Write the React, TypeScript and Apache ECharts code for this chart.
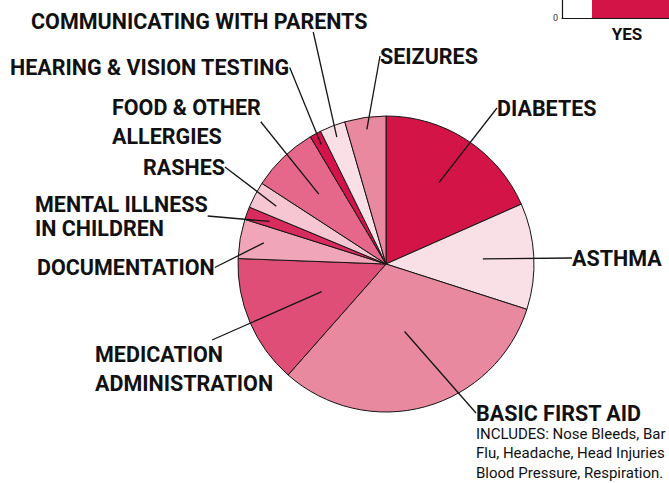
import React, { useEffect, useRef } from "react";
import * as echarts from "echarts";

// ---- data ----
const categories = [
  "DIABETES",
  "ASTHMA",
  "BASIC FIRST AID",
  "MEDICATION\nADMINISTRATION",
  "DOCUMENTATION",
  "MENTAL ILLNESS\nIN CHILDREN",
  "RASHES",
  "FOOD & OTHER\nALLERGIES",
  "HEARING & VISION TESTING",
  "COMMUNICATING WITH PARENTS",
  "SEIZURES",
];
const shares = [18.4, 11.6, 31.6, 14.1, 4.3, 1.4, 2.9, 7.3, 1.25, 2.8, 4.5];
const includesLines = [
  "INCLUDES: Nose Bleeds, Bar",
  "Flu, Headache, Head Injuries",
  "Blood Pressure, Respiration.",
];
const barCategories = ["YES"];
const barValues = [70];
const barTicks = [0, 100];

// ---- styles / layout ----
const sliceColors = [
  "#D21446", "#F9DFE6", "#E8899F", "#DE4E77", "#F0A6B8", "#D82B5E",
  "#F6C7D2", "#E5688A", "#D4134A", "#FBDFE6", "#E8899F",
];
// label text anchor: [left x of text, vertical centre y]
const labelPos: [number, number][] = [
  [497, 108], [572, 258], [476, 413], [95, 369], [37, 267.5], [35, 216],
  [143, 167], [112, 121.75], [10, 67.5], [31, 21], [380, 56],
];
// label box padding [top, right, bottom, left] – steers where the leader attaches
const labelPad: number[][] = [
  [0, 0, 0, 0], [0, 0, 0, 0], [0, 0, 0, 0], [0, 206, 0, 150], [0, 0, 0, 0],
  [0, 0, 0, 0], [0, 0, 0, 0], [0, 0, 0, 0], [0, 0, 0, 0], [0, 228, 0, 0],
  [0, 0, 0, 0],
];
const labelLineHeights = [22, 22, 22, 29, 22, 24, 22, 28.5, 22, 22, 22];
// which invisible guide ring each label's leader starts from
const labelTier = [1, 1, 0, 0, 2, 2, 2, 1, 3, 3, 3];
const tierRadius = [70, 97, 124, 136];

const CX = 386;
const CY = 264;
const R = 148;
const FONT = "Roboto, 'Liberation Sans', Arial, sans-serif";

export default function App() {
  const ref = useRef<HTMLDivElement>(null);
  useEffect(() => {
    if (!ref.current) return;
    const chart = echarts.init(ref.current, undefined, { renderer: "svg" });

    const mainData = categories.map((name, i) => ({
      name,
      value: shares[i],
      itemStyle: { color: sliceColors[i] },
    }));

    const guideSeries = tierRadius.map((rad, t) => ({
      type: "pie",
      silent: true,
      z: 3,
      center: [CX, CY],
      radius: [0, rad],
      startAngle: 90,
      clockwise: true,
      avoidLabelOverlap: false,
      emphasis: { disabled: true },
      itemStyle: { color: "rgba(0,0,0,0)", borderWidth: 0 },
      labelLine: {
        show: true,
        length: 5,
        length2: 0,
        smooth: false,
        lineStyle: { color: "#151515", width: 1.3 },
      },
      label: {
        position: "outside",
        formatter: "{b}",
        color: "#111",
        fontFamily: FONT,
        fontWeight: "bold",
        fontSize: 21.5,
      },
      labelLayout: (p: any) => {
        const pos = labelPos[p.dataIndex];
        const pad = labelPad[p.dataIndex];
        return {
          x: pos[0] - pad[3],
          y: pos[1],
          align: "left",
          verticalAlign: "middle",
        };
      },
      data: categories.map((name, i) => {
        const on = labelTier[i] === t;
        return {
          name,
          value: shares[i],
          label: {
            show: on,
            lineHeight: labelLineHeights[i],
            padding: labelPad[i],
          },
          labelLine: { show: on },
        };
      }),
    }));

    chart.setOption({
      animation: false,
      backgroundColor: "#ffffff",
      grid: {
        left: 562,
        right: -41,
        top: -300,
        bottom: 465,
        containLabel: false,
        outerBoundsMode: "none",
      },
      xAxis: {
        type: "category",
        data: barCategories,
        boundaryGap: true,
        axisLine: { show: true, lineStyle: { color: "#151515", width: 1.2 } },
        axisTick: { show: false },
        axisLabel: {
          color: "#111",
          fontFamily: FONT,
          fontWeight: "bold",
          fontSize: 17,
          margin: 7,
          padding: [0, 18, 0, 0],
        },
      },
      yAxis: {
        type: "value",
        min: barTicks[0],
        max: barTicks[barTicks.length - 1],
        interval: barTicks[1] - barTicks[0],
        axisLine: { show: true, lineStyle: { color: "#151515", width: 1.2 } },
        axisTick: { show: false },
        splitLine: { show: false },
        axisLabel: {
          color: "#333",
          fontFamily: FONT,
          fontSize: 9,
          margin: 4,
          showMaxLabel: false,
        },
      },
      graphic: [
        {
          type: "text",
          left: 476,
          top: 424,
          silent: true,
          style: {
            text: includesLines.join("\n"),
            fill: "#111",
            fontFamily: FONT,
            fontSize: 15,
            lineHeight: 19.5,
          },
        },
      ],
      series: [
        {
          type: "bar",
          data: barValues,
          barWidth: 88,
          itemStyle: { color: "#D21446" },
          silent: true,
        },
        {
          type: "pie",
          silent: true,
          z: 2,
          center: [CX, CY],
          radius: [0, R],
          startAngle: 90,
          clockwise: true,
          emphasis: { disabled: true },
          label: { show: false },
          labelLine: { show: false },
          itemStyle: { borderColor: "#151515", borderWidth: 1 },
          data: mainData,
        },
        ...guideSeries,
      ],
    });
    return () => chart.dispose();
  }, []);
  return (
    <div
      ref={ref}
      style={{ position: "fixed", left: 0, top: 0, width: 669, height: 483 }}
    />
  );
}
